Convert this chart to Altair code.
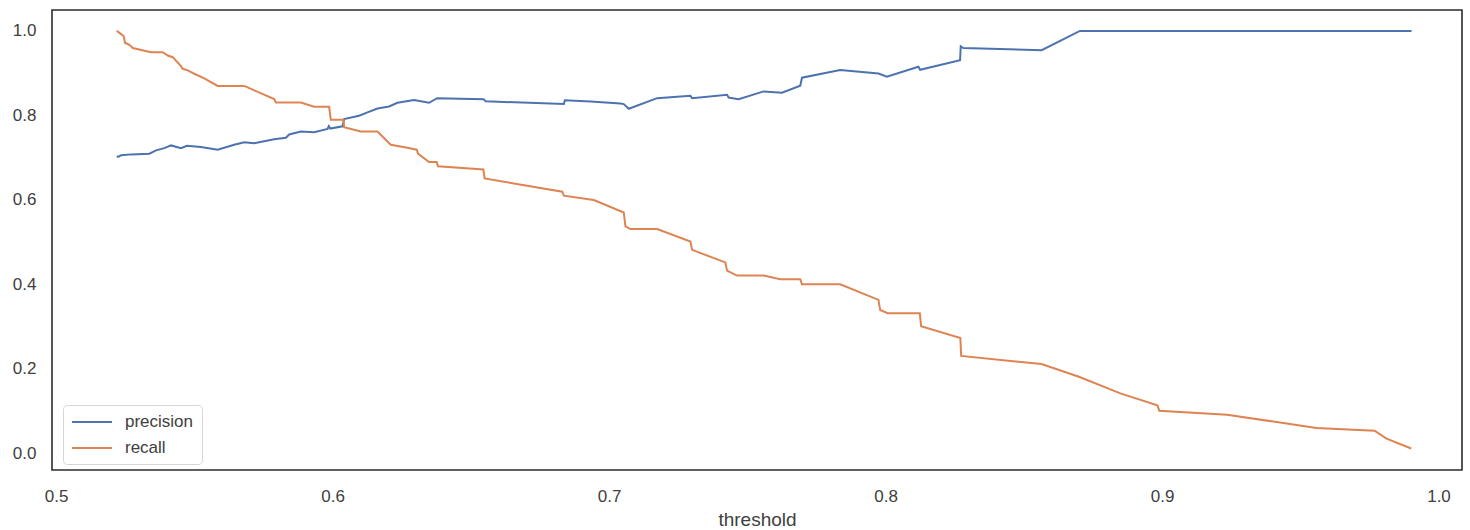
import altair as alt
import pandas as pd

# ---- data ----
prec_threshold = [0.52193, 0.52240, 0.52348, 0.52710, 0.53371, 0.53613, 0.53913, 0.54155,
                  0.54516, 0.54733, 0.55238, 0.55842, 0.56441, 0.56803, 0.57164, 0.57887,
                  0.58309, 0.58429, 0.58851, 0.59332, 0.59816, 0.59863, 0.59917, 0.60358,
                  0.60415, 0.60957, 0.61261, 0.61622, 0.62041, 0.62345, 0.62945, 0.63486,
                  0.63783, 0.65462, 0.65535, 0.68363, 0.68400, 0.69328, 0.70412, 0.70531,
                  0.70712, 0.71738, 0.72941, 0.73002, 0.74267, 0.74324, 0.74686, 0.75589,
                  0.76254, 0.76915, 0.76976, 0.78360, 0.79743, 0.80047, 0.81189, 0.81250,
                  0.82695, 0.82720, 0.82814, 0.85647, 0.87030, 0.99025]
prec_value = [0.7038, 0.7020, 0.7054, 0.7077, 0.7094, 0.7171, 0.7225, 0.7289,
              0.7225, 0.7282, 0.7249, 0.7188, 0.7305, 0.7366, 0.7343, 0.7437,
              0.7469, 0.7547, 0.7617, 0.7601, 0.7681, 0.7746, 0.7688, 0.7742,
              0.7915, 0.7993, 0.8070, 0.8164, 0.8211, 0.8298, 0.8364, 0.8298,
              0.8408, 0.8385, 0.8333, 0.8268, 0.8357, 0.8329, 0.8282, 0.8268,
              0.8157, 0.8408, 0.8462, 0.8408, 0.8486, 0.8423, 0.8385, 0.8568,
              0.8538, 0.8704, 0.8892, 0.9073, 0.8991, 0.8915, 0.9150, 0.9080,
              0.9308, 0.9636, 0.9596, 0.9542, 1.0000, 1.0000]

rec_threshold = [0.52193, 0.52348, 0.52446, 0.52493, 0.52590, 0.52710, 0.52771, 0.53432,
                 0.53855, 0.54035, 0.54216, 0.54516, 0.54577, 0.54758, 0.54996, 0.55358,
                 0.55842, 0.56803, 0.57887, 0.57948, 0.58851, 0.59332, 0.59874, 0.59935,
                 0.60394, 0.60415, 0.61019, 0.61622, 0.62103, 0.62706, 0.63042, 0.63089,
                 0.63486, 0.63764, 0.63811, 0.65452, 0.65499, 0.68306, 0.68363, 0.69447,
                 0.70531, 0.70592, 0.70773, 0.71738, 0.72941, 0.73002, 0.74205, 0.74267,
                 0.74628, 0.75589, 0.76192, 0.76915, 0.76976, 0.78360, 0.79743, 0.79805,
                 0.80079, 0.81239, 0.81286, 0.82706, 0.82735, 0.85640, 0.86994, 0.88493,
                 0.89830, 0.89902, 0.92356, 0.95582, 0.97688, 0.98121, 0.99014]
rec_value = [1.0000, 0.9925, 0.9871, 0.9714, 0.9690, 0.9636, 0.9596, 0.9495,
             0.9495, 0.9418, 0.9378, 0.9167, 0.9103, 0.9066, 0.8986, 0.8878,
             0.8697, 0.8697, 0.8385, 0.8305, 0.8305, 0.8204, 0.8204, 0.7899,
             0.7899, 0.7718, 0.7617, 0.7617, 0.7305, 0.7235, 0.7188, 0.7094,
             0.6897, 0.6897, 0.6796, 0.6718, 0.6507, 0.6193, 0.6099, 0.5998,
             0.5700, 0.5371, 0.5310, 0.5310, 0.5012, 0.4817, 0.4519, 0.4324,
             0.4207, 0.4207, 0.4120, 0.4120, 0.4002, 0.4002, 0.3631, 0.3392,
             0.3315, 0.3315, 0.3009, 0.2728, 0.2305, 0.2113, 0.1812, 0.1420,
             0.1134, 0.1009, 0.0915, 0.0599, 0.0535, 0.0347, 0.0113]

series_names = ["precision", "recall"]
series_colors = ["#4C72B0", "#DD8452"]
x_ticks = [0.5, 0.6, 0.7, 0.8, 0.9, 1.0]
y_ticks = [0.0, 0.2, 0.4, 0.6, 0.8, 1.0]

df = pd.concat([
    pd.DataFrame({"threshold": prec_threshold, "value": prec_value, "series": "precision"}),
    pd.DataFrame({"threshold": rec_threshold, "value": rec_value, "series": "recall"}),
], ignore_index=True)

FONT = "Liberation Sans"
TEXT = "#404040"

chart = alt.Chart(df).mark_line(strokeWidth=2, interpolate="linear").encode(
    x=alt.X("threshold:Q",
            scale=alt.Scale(domain=[0.4985, 1.0085], nice=False, zero=False),
            axis=alt.Axis(values=x_ticks, format=".1f", title="threshold",
                          grid=False, ticks=False, domain=False,
                          labelPadding=18, titlePadding=6,
                          labelFontSize=17, titleFontSize=19,
                          labelColor=TEXT, titleColor=TEXT,
                          titleFontWeight="normal", labelFont=FONT, titleFont=FONT)),
    y=alt.Y("value:Q",
            scale=alt.Scale(domain=[-0.0395, 1.0495], nice=False, zero=False),
            axis=alt.Axis(values=y_ticks, format=".1f", title=None,
                          grid=False, ticks=False, domain=False,
                          labelPadding=16, labelFontSize=17,
                          labelColor=TEXT, labelFont=FONT)),
    color=alt.Color("series:N",
                    scale=alt.Scale(domain=series_names, range=series_colors),
                    legend=alt.Legend(title=None, orient="none", legendX=11, legendY=395,
                                      symbolType="M-1,0L4,0", symbolSize=256,
                                      symbolStrokeWidth=2, labelFontSize=17,
                                      labelFont=FONT, labelColor=TEXT,
                                      labelOffset=36, rowPadding=9, padding=8,
                                      strokeColor="#d6d6d6", fillColor="white",
                                      cornerRadius=4)),
).properties(
    width=1410,
    height=460,
    padding={"left": 52, "top": 10, "right": 8, "bottom": 60},
    autosize=alt.AutoSizeParams(type="none"),
    background="white",
).configure_view(stroke="#2b2b2b", strokeWidth=1.6)

chart.save("out.html", embed_options={"renderer": "svg", "actions": False})
